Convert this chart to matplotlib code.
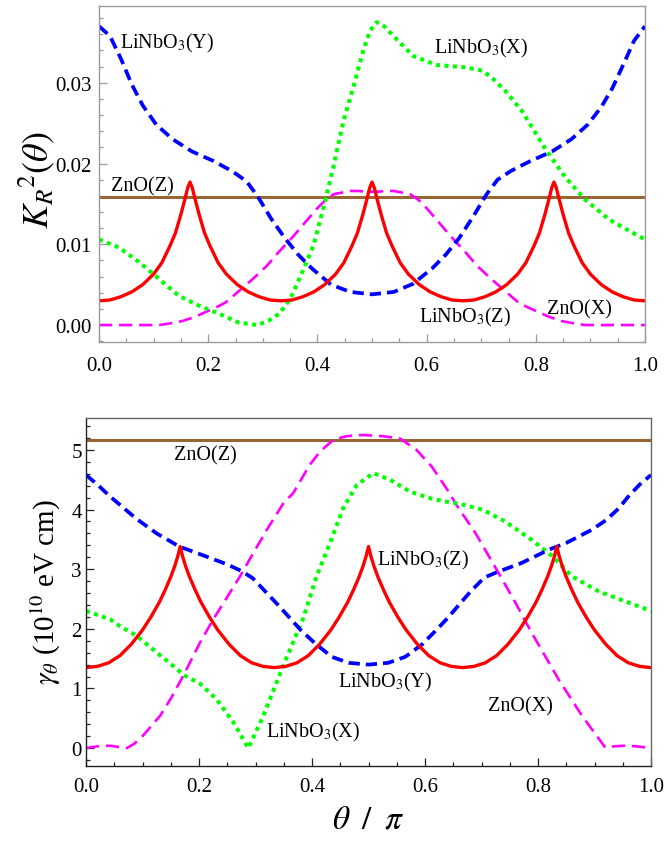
import matplotlib
matplotlib.use("Agg")
import matplotlib.pyplot as plt
from matplotlib.ticker import MultipleLocator, FormatStrFormatter

plt.rcParams["font.family"] = ["Liberation Serif", "DejaVu Serif"]
plt.rcParams["mathtext.fontset"] = "stix"

# ---------------- top panel: K_R^2(theta) ----------------
top_zno_z_x = [0.0, 1.0]
top_zno_z_y = [0.0158, 0.0158]

top_lnz_x = [0, 0.02, 0.04, 0.06, 0.08, 0.10, 0.115, 0.13, 0.14, 0.15, 0.157, 0.1625, 0.1667,
             0.1708, 0.1763, 0.1833, 0.1933, 0.2033, 0.2183, 0.2333, 0.2533, 0.2733, 0.2933, 0.3133, 0.3333,
             0.3533, 0.3733, 0.3933, 0.4133, 0.4333, 0.4483, 0.4633, 0.4733, 0.4833, 0.4903, 0.4958, 0.5,
             0.5042, 0.5097, 0.5167, 0.5267, 0.5367, 0.5517, 0.5667, 0.5867, 0.6067, 0.6267, 0.6467, 0.6667,
             0.6867, 0.7067, 0.7267, 0.7467, 0.7667, 0.7817, 0.7967, 0.8067, 0.8167, 0.8237, 0.8292, 0.8333,
             0.8375, 0.843, 0.85, 0.86, 0.87, 0.885, 0.90, 0.92, 0.94, 0.96, 0.98, 1.0]
top_lnz_y = [0.0030, 0.0031, 0.0035, 0.0041, 0.0050, 0.0063, 0.0077, 0.0098, 0.0114, 0.0137, 0.0155, 0.0170, 0.0177,
             0.0170, 0.0155, 0.0137, 0.0114, 0.0098, 0.0077, 0.0063, 0.0050, 0.0041, 0.0035, 0.0031, 0.0030,
             0.0031, 0.0035, 0.0041, 0.0050, 0.0063, 0.0077, 0.0098, 0.0114, 0.0137, 0.0155, 0.0170, 0.0177,
             0.0170, 0.0155, 0.0137, 0.0114, 0.0098, 0.0077, 0.0063, 0.0050, 0.0041, 0.0035, 0.0031, 0.0030,
             0.0031, 0.0035, 0.0041, 0.0050, 0.0063, 0.0077, 0.0098, 0.0114, 0.0137, 0.0155, 0.0170, 0.0177,
             0.0170, 0.0155, 0.0137, 0.0114, 0.0098, 0.0077, 0.0063, 0.0050, 0.0041, 0.0035, 0.0031, 0.0030]

top_lny_x = [0, 0.02, 0.04, 0.06, 0.08, 0.105, 0.135, 0.17, 0.21, 0.245, 0.27, 0.29, 0.315, 0.34, 0.365,
             0.39, 0.425, 0.46, 0.5, 0.54, 0.575, 0.61, 0.635, 0.66, 0.685, 0.71, 0.73, 0.755, 0.79, 0.83,
             0.865, 0.895, 0.92, 0.94, 0.96, 0.98, 1.0]
top_lny_y = [0.0370, 0.0358, 0.0330, 0.0298, 0.0272, 0.0248, 0.0230, 0.0215, 0.0203, 0.0190, 0.0178, 0.0160,
             0.0132, 0.0108, 0.0087, 0.0070, 0.0050, 0.0041, 0.0038, 0.0041, 0.0051, 0.0070, 0.0087, 0.0108,
             0.0134, 0.0162, 0.0180, 0.0191, 0.0203, 0.0215, 0.0230, 0.0248, 0.0270, 0.0293, 0.0322, 0.0352,
             0.0370]

top_lnx_x = [0, 0.0366, 0.0733, 0.11, 0.1465, 0.183, 0.22, 0.256, 0.29, 0.31, 0.33, 0.35, 0.37, 0.3926,
             0.411, 0.429, 0.4475, 0.466, 0.484, 0.497, 0.5086, 0.522, 0.539, 0.5757, 0.6185, 0.671, 0.7015,
             0.72, 0.744, 0.7747, 0.8175, 0.854, 0.8907, 0.9335, 0.97, 1.0]
top_lnx_y = [0.0106, 0.0096, 0.0078, 0.0057, 0.0036, 0.0024, 0.0014, 0.0003, 0.0000, 0.0005, 0.0014, 0.0032,
             0.0062, 0.0098, 0.0145, 0.0195, 0.0252, 0.0295, 0.0340, 0.0365, 0.0375, 0.0370, 0.0358, 0.0333,
             0.0322, 0.0319, 0.0315, 0.0306, 0.0290, 0.0265, 0.0218, 0.0183, 0.0155, 0.0131, 0.0117, 0.0106]

top_znx_x = [0, 0.06, 0.11, 0.13, 0.153, 0.175, 0.195, 0.215, 0.232, 0.256, 0.28, 0.307, 0.33, 0.356, 0.38,
             0.399, 0.415, 0.43, 0.445, 0.46, 0.475, 0.49, 0.5, 0.51, 0.525, 0.54, 0.555, 0.57, 0.585, 0.601,
             0.62, 0.644, 0.67, 0.693, 0.72, 0.744, 0.768, 0.785, 0.805, 0.825, 0.847, 0.87, 0.89, 0.94, 1.0]
top_znx_y = [0, 0, 0, 0.0002, 0.0005, 0.0010, 0.0016, 0.0022, 0.0028, 0.0042, 0.0056, 0.0073, 0.0091, 0.0110,
             0.0129, 0.0144, 0.0155, 0.0162, 0.0164, 0.0166, 0.0166, 0.0165, 0.0165, 0.0165, 0.0166, 0.0166,
             0.0164, 0.0162, 0.0155, 0.0144, 0.0129, 0.0110, 0.0091, 0.0073, 0.0056, 0.0042, 0.0028, 0.0022,
             0.0016, 0.0010, 0.0005, 0.0002, 0, 0, 0]

# ---------------- bottom panel: gamma_theta ----------------
bot_zno_z_x = [0.0, 1.0]
bot_zno_z_y = [5.16, 5.16]

bot_lnz_x = top_lnz_x
bot_lnz_y = [1.35, 1.37, 1.43, 1.55, 1.74, 1.98, 2.20, 2.45, 2.65, 2.87, 3.05, 3.22, 3.38,
             3.22, 3.05, 2.87, 2.65, 2.45, 2.20, 1.98, 1.74, 1.55, 1.43, 1.37, 1.35,
             1.37, 1.43, 1.55, 1.74, 1.98, 2.20, 2.45, 2.65, 2.87, 3.05, 3.22, 3.38,
             3.22, 3.05, 2.87, 2.65, 2.45, 2.20, 1.98, 1.74, 1.55, 1.43, 1.37, 1.35,
             1.37, 1.43, 1.55, 1.74, 1.98, 2.20, 2.45, 2.65, 2.87, 3.05, 3.22, 3.38,
             3.22, 3.05, 2.87, 2.65, 2.45, 2.20, 1.98, 1.74, 1.55, 1.43, 1.37, 1.35]

bot_lny_x = [0, 0.02, 0.0425, 0.065, 0.0885, 0.125, 0.165, 0.2136, 0.25, 0.275, 0.295, 0.32, 0.34, 0.36,
             0.38, 0.405, 0.435, 0.465, 0.5, 0.535, 0.565, 0.595, 0.62, 0.64, 0.66, 0.68, 0.705, 0.73, 0.77,
             0.82, 0.85, 0.895, 0.92, 0.943, 0.96, 0.98, 1.0]
bot_lny_y = [4.58, 4.42, 4.22, 4.04, 3.85, 3.60, 3.38, 3.21, 3.08, 2.97, 2.85, 2.60, 2.40, 2.19, 1.98, 1.76,
             1.53, 1.43, 1.40, 1.43, 1.53, 1.74, 1.98, 2.18, 2.40, 2.62, 2.86, 2.96, 3.10, 3.33, 3.44, 3.66,
             3.82, 4.02, 4.22, 4.42, 4.58]

bot_lnx_x = [0, 0.0425, 0.059, 0.0885, 0.118, 0.1475, 0.174, 0.2018, 0.231, 0.261, 0.2873, 0.3138, 0.349,
             0.3846, 0.408, 0.432, 0.4555, 0.479, 0.5085, 0.538, 0.5735, 0.609, 0.638, 0.6596, 0.701, 0.742,
             0.789, 0.825, 0.86, 0.907, 0.9545, 1.0]
bot_lnx_y = [2.30, 2.16, 2.05, 1.89, 1.66, 1.43, 1.22, 1.08, 0.82, 0.43, 0.0, 0.54, 1.38, 2.18, 2.88, 3.44,
             4.03, 4.41, 4.61, 4.50, 4.30, 4.19, 4.13, 4.10, 4.00, 3.80, 3.49, 3.22, 2.88, 2.63, 2.46, 2.30]

bot_znx_x = [0, 0.02, 0.0425, 0.072, 0.085, 0.101, 0.131, 0.15, 0.172, 0.2018, 0.2253, 0.249, 0.2726, 0.29,
             0.32, 0.349, 0.367, 0.396, 0.415, 0.438, 0.461, 0.49, 0.526, 0.556, 0.585, 0.612, 0.644, 0.654,
             0.689, 0.73, 0.76, 0.789, 0.8366, 0.878, 0.919, 0.935, 0.9545, 0.975, 1.0]
bot_znx_y = [0, 0.03, 0.04, 0.0, 0.07, 0.21, 0.54, 0.83, 1.21, 1.77, 2.16, 2.52, 2.88, 3.17, 3.66, 4.10,
             4.28, 4.75, 4.98, 5.17, 5.23, 5.25, 5.23, 5.19, 5.00, 4.72, 4.27, 4.10, 3.61, 2.94, 2.44, 1.93,
             1.15, 0.54, 0.01, 0.03, 0.04, 0.03, 0.0]

RED = "#ff0000"
BLUE = "#0000ff"
GREEN = "#00ff00"
MAGENTA = "#ff00ff"
BROWN = "#996633"


def draw_curves(ax, zz, lz, ly, lx, zx):
    ax.plot(*zz, color=BROWN, lw=2.2, solid_capstyle="butt")
    ax.plot(*zx, color=MAGENTA, lw=1.9, dashes=(5, 2.6))
    ax.plot(*lx, color=GREEN, lw=2.9, dashes=(1, 1.1), dash_capstyle="butt")
    ax.plot(*ly, color=BLUE, lw=2.7, dashes=(3, 1.6))
    ax.plot(*lz, color=RED, lw=2.4)


def style_axes(ax, spine_col, left_col, ypad, xpad):
    for s in ax.spines.values():
        s.set_color(spine_col)
        s.set_linewidth(1.0)
    ax.spines["left"].set_color(left_col)
    ax.spines["bottom"].set_color(left_col)
    ax.tick_params(which="both", direction="in", top=False, right=False,
                   labelsize=15, color=left_col, width=0.9)
    ax.tick_params(which="major", length=6)
    ax.tick_params(which="minor", length=3.2)
    ax.tick_params(axis="y", pad=ypad)
    ax.tick_params(axis="x", pad=xpad)
    ax.xaxis.set_major_locator(MultipleLocator(0.2))
    ax.xaxis.set_minor_locator(MultipleLocator(0.05))
    ax.xaxis.set_major_formatter(FormatStrFormatter("%.1f"))
    ax.set_xlim(0, 1)


fig = plt.figure(figsize=(6.64, 8.45), dpi=100)

ax1 = fig.add_axes([99 / 664, 1 - 343 / 845, 546 / 664, 336 / 845])
draw_curves(ax1, (top_zno_z_x, top_zno_z_y), (top_lnz_x, top_lnz_y), (top_lny_x, top_lny_y),
            (top_lnx_x, top_lnx_y), (top_znx_x, top_znx_y))
style_axes(ax1, "#9a9a9a", "#9a9a9a", 5, 10)
ax1.set_ylim(-0.0021, 0.0395)
ax1.yaxis.set_major_locator(MultipleLocator(0.01))
ax1.yaxis.set_minor_locator(MultipleLocator(0.002))
ax1.yaxis.set_major_formatter(FormatStrFormatter("%.2f"))

tfs = 14.5
ax1.text(0.038, 0.0350, r"LiNbO$_3$(Y)", fontsize=tfs, ha="left", va="center")
ax1.text(0.70, 0.0344, r"LiNbO$_3$(X)", fontsize=tfs, ha="center", va="center")
ax1.text(0.08, 0.0172, "ZnO(Z)", fontsize=tfs, ha="center", va="center")
ax1.text(0.671, 0.0011, r"LiNbO$_3$(Z)", fontsize=tfs, ha="center", va="center")
ax1.text(0.88, 0.0020, "ZnO(X)", fontsize=tfs, ha="center", va="center")

ax2 = fig.add_axes([86 / 664, 1 - 767 / 845, 565 / 664, 348 / 845])
draw_curves(ax2, (bot_zno_z_x, bot_zno_z_y), (bot_lnz_x, bot_lnz_y), (bot_lny_x, bot_lny_y),
            (bot_lnx_x, bot_lnx_y), (bot_znx_x, bot_znx_y))
style_axes(ax2, "#666666", "#222222", 3, 8)
ax2.set_ylim(-0.30, 5.535)
ax2.yaxis.set_major_locator(MultipleLocator(1))
ax2.yaxis.set_minor_locator(MultipleLocator(0.2))
ax2.yaxis.set_major_formatter(FormatStrFormatter("%d"))

ax2.text(0.2106, 4.92, "ZnO(Z)", fontsize=tfs, ha="center", va="center")
ax2.text(0.515, 3.16, r"LiNbO$_3$(Z)", fontsize=tfs, ha="left", va="center")
ax2.text(0.530, 1.125, r"LiNbO$_3$(Y)", fontsize=tfs, ha="center", va="center")
ax2.text(0.769, 0.71, "ZnO(X)", fontsize=tfs, ha="center", va="center")
ax2.text(0.4027, 0.28, r"LiNbO$_3$(X)", fontsize=tfs, ha="center", va="center")

fig.text(37 / 664, 1 - 180 / 845, r"$K_R{}^2(\theta)$", fontsize=26, rotation=90,
         ha="center", va="center")
fig.text(46 / 664, 1 - 592 / 845, r"$\gamma_\theta$ (10$^{10}$ eV cm)", fontsize=21, rotation=90,
         ha="center", va="center")
fig.text(368 / 664, 1 - 820 / 845, r"$\theta\;\;/\;\;\pi$", fontsize=24, ha="center", va="center")

fig.savefig("out.png", dpi=100)
